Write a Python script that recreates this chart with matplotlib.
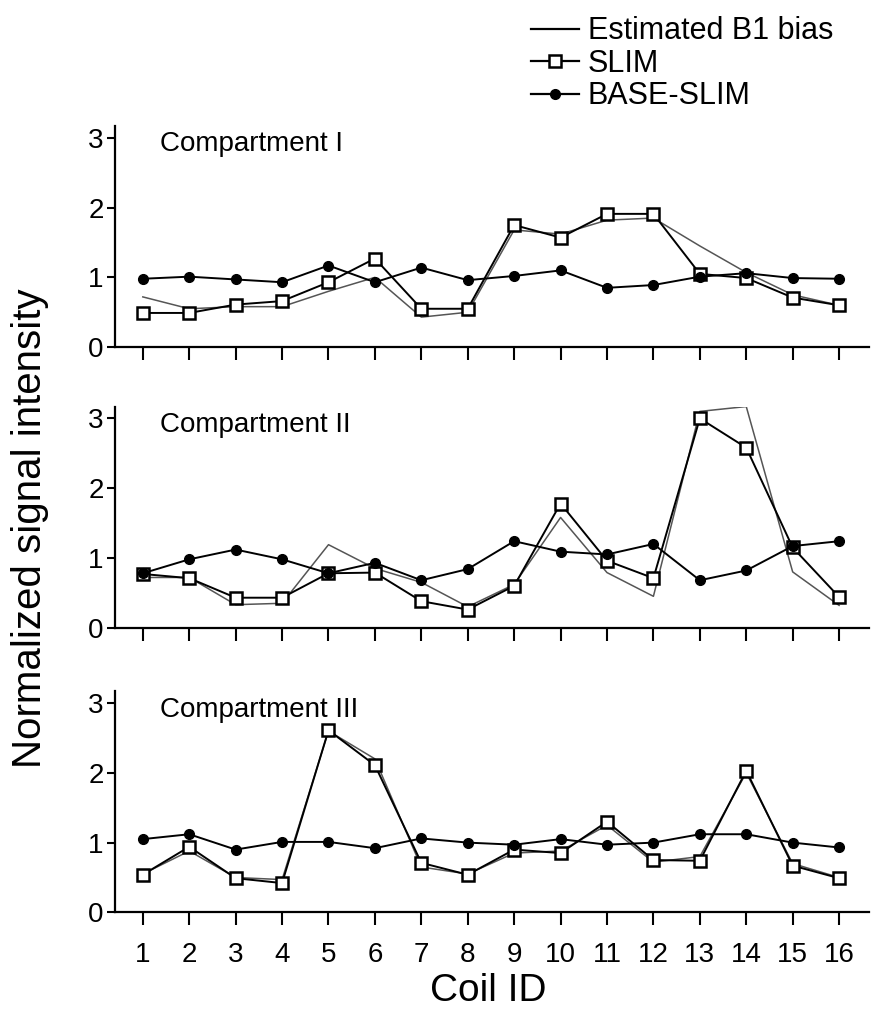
import matplotlib
matplotlib.use("Agg")
import matplotlib.pyplot as plt
from matplotlib.lines import Line2D

plt.rcParams["font.family"] = ["Liberation Sans", "DejaVu Sans"]

coil_ids = list(range(1, 17))
compartments = ["Compartment I", "Compartment II", "Compartment III"]

# Estimated B1 bias
bias_1 = [0.72, 0.55, 0.58, 0.58, 0.80, 1.00, 0.43, 0.50, 1.68, 1.62, 1.82, 1.85, 1.45, 1.07, 0.75, 0.60]
bias_2 = [0.72, 0.72, 0.33, 0.35, 1.19, 0.85, 0.65, 0.30, 0.62, 1.58, 0.79, 0.45, 3.10, 3.17, 0.80, 0.32]
bias_3 = [0.55, 0.88, 0.50, 0.47, 2.60, 2.20, 0.65, 0.55, 0.85, 0.88, 1.25, 0.72, 0.80, 2.00, 0.70, 0.50]

# SLIM
slim_1 = [0.49, 0.49, 0.61, 0.66, 0.93, 1.27, 0.55, 0.55, 1.75, 1.57, 1.91, 1.91, 1.05, 0.99, 0.71, 0.60]
slim_2 = [0.77, 0.71, 0.43, 0.43, 0.78, 0.79, 0.38, 0.26, 0.60, 1.78, 0.96, 0.71, 3.00, 2.58, 1.15, 0.44]
slim_3 = [0.54, 0.94, 0.49, 0.42, 2.61, 2.11, 0.71, 0.54, 0.90, 0.85, 1.30, 0.75, 0.74, 2.03, 0.67, 0.49]

# BASE-SLIM
base_1 = [0.98, 1.01, 0.97, 0.93, 1.17, 0.93, 1.14, 0.96, 1.02, 1.10, 0.85, 0.89, 1.01, 1.06, 0.99, 0.98]
base_2 = [0.78, 0.98, 1.12, 0.98, 0.78, 0.93, 0.68, 0.84, 1.24, 1.09, 1.05, 1.20, 0.68, 0.82, 1.17, 1.24]
base_3 = [1.05, 1.12, 0.90, 1.01, 1.01, 0.92, 1.06, 1.00, 0.97, 1.05, 0.97, 1.00, 1.12, 1.12, 1.00, 0.93]

bias = [bias_1, bias_2, bias_3]
slim = [slim_1, slim_2, slim_3]
base = [base_1, base_2, base_3]

fig = plt.figure(figsize=(8.71, 10.24), dpi=100)
bottoms = [0.661, 0.387, 0.109]
axes = []
for i in range(3):
    ax = fig.add_axes([0.132, bottoms[i], 0.866, 0.216])
    axes.append(ax)
    ax.plot(coil_ids, bias[i], color="#555555", lw=1.1, zorder=2)
    ax.plot(coil_ids, slim[i], color="black", lw=1.4, marker="s", ms=8,
            mfc="white", mec="black", mew=1.8, zorder=3)
    ax.plot(coil_ids, base[i], color="black", lw=1.4, marker="o", ms=7,
            mfc="black", mec="black", zorder=4)
    ax.set_xlim(0.4, 16.65)
    ax.set_ylim(0, 3.17)
    ax.set_yticks([0, 1, 2, 3])
    ax.set_xticks(coil_ids)
    ax.spines["top"].set_visible(False)
    ax.spines["right"].set_visible(False)
    ax.spines["left"].set_linewidth(1.6)
    ax.spines["bottom"].set_linewidth(1.6)
    ax.tick_params(axis="x", direction="out", length=9, width=1.5, labelsize=20, pad=12)
    ax.tick_params(axis="y", direction="out", length=6, width=1.5, labelsize=20, pad=2)
    ax.text(0.06, 0.975, compartments[i], transform=ax.transAxes, fontsize=20,
            va="top", ha="left")
    if i < 2:
        ax.set_xticklabels([])

fig.text(0.56, 0.032, "Coil ID", fontsize=28, ha="center", va="center")
fig.text(0.034, 0.484, "Normalized signal intensity", rotation=90, fontsize=29,
         ha="center", va="center")

handles = [
    Line2D([], [], color="black", lw=1.6),
    Line2D([], [], color="black", lw=1.6, marker="s", ms=8, mfc="white", mew=1.8),
    Line2D([], [], color="black", lw=1.6, marker="o", ms=7, mfc="black"),
]
labels = ["Estimated B1 bias", "SLIM", "BASE-SLIM"]
fig.legend(handles, labels, loc="upper left", bbox_to_anchor=(0.61, 0.984),
           frameon=False, fontsize=22, handlelength=1.55, handletextpad=0.3,
           labelspacing=0.08, borderpad=0.0, borderaxespad=0.0)

fig.savefig("out.png", dpi=100)
plt.close(fig)
